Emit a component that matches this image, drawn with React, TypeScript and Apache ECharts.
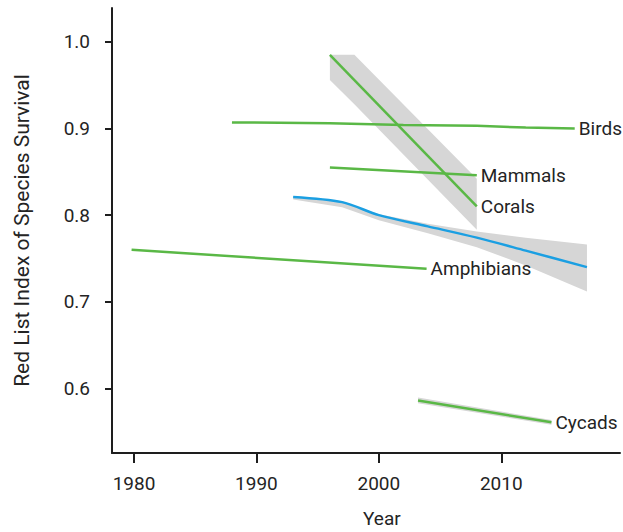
import React, { useEffect, useRef } from "react";
import * as echarts from "echarts";

const GREEN = "#5ab846";
const BLUE = "#1b9fe2";
const BAND = "#d6d6d6";

const xTicks = [1980, 1990, 2000, 2010];
const yTicks = [0.6, 0.7, 0.8, 0.9, 1.0];

const birdsYears = [1988, 1996, 2002, 2008, 2012, 2016];
const birdsValues = [0.907, 0.906, 0.904, 0.903, 0.901, 0.9];

const mammalsYears = [1996, 2008];
const mammalsValues = [0.855, 0.846];

const coralsYears = [1996, 2008];
const coralsValues = [0.985, 0.81];
const coralsBandYears = [1996, 1998, 2008];
const coralsBandUpper = [0.985, 0.985, 0.842];
const coralsBandLower = [0.956, 0.928, 0.783];

const amphYears = [1979.8, 2003.9];
const amphValues = [0.76, 0.738];

const cycadsYears = [2003.2, 2014.1];
const cycadsValues = [0.586, 0.561];
const cycadsUpper = [0.5895, 0.5635];
const cycadsLower = [0.583, 0.558];

const allYears = [1993, 1997, 2000, 2004, 2008, 2012, 2017];
const allValues = [0.821, 0.815, 0.8, 0.787, 0.774, 0.759, 0.74];
const allUpper = [0.822, 0.816, 0.801, 0.79, 0.781, 0.774, 0.766];
const allLower = [0.818, 0.809, 0.794, 0.779, 0.763, 0.742, 0.712];

const FONT = "Roboto";
const TEXT = "#242424";

function pairs(xs: number[], ys: number[]) {
  return xs.map((x, i) => [x, ys[i]]);
}

function bandSeries(xs: number[], upper: number[], lower: number[]) {
  return {
    type: "custom",
    silent: true,
    z: 1,
    data: [[xs[0], lower[0]]],
    renderItem: (_params: any, api: any) => {
      const top = xs.map((x, i) => api.coord([x, upper[i]]));
      const bottom = xs
        .map((x, i) => api.coord([x, lower[i]]))
        .reverse();
      return {
        type: "polygon",
        shape: { points: top.concat(bottom), smooth: 0 },
        style: { fill: BAND, stroke: null },
      };
    },
  };
}

function lineSeries(
  name: string,
  xs: number[],
  ys: number[],
  color: string,
  label = true,
  smooth: number | boolean = false
) {
  return {
    type: "line",
    name,
    z: 3,
    data: pairs(xs, ys),
    symbol: "none",
    smooth,
    lineStyle: { color, width: 2.5 },
    endLabel: label
      ? {
          show: true,
          formatter: "{a}",
          distance: 4,
          fontFamily: FONT,
          fontSize: 19,
          color: TEXT,
        }
      : { show: false },
  };
}

export default function App() {
  const ref = useRef<HTMLDivElement>(null);
  useEffect(() => {
    if (!ref.current) return;
    const chart = echarts.init(ref.current, undefined, { renderer: "svg" });
    const axisLine = { show: true, lineStyle: { color: "#1e1e1e", width: 2 } };
    chart.setOption({
      animation: false,
      grid: { left: 112, right: 3, top: 8, bottom: 79 },
      xAxis: {
        type: "value",
        min: 1978.2,
        max: 2019.7,
        splitLine: { show: false },
        axisLine,
        axisTick: {
          show: true,
          customValues: xTicks,
          length: 10,
          lineStyle: { color: "#1e1e1e", width: 2 },
        },
        axisLabel: {
          customValues: xTicks,
          margin: 21,
          fontFamily: FONT,
          fontSize: 19,
          color: TEXT,
          formatter: (v: number) => String(Math.round(v)),
        },
      },
      yAxis: {
        type: "value",
        min: 0.5255,
        max: 1.039,
        splitLine: { show: false },
        axisLine,
        axisTick: {
          show: true,
          customValues: yTicks,
          length: 7,
          lineStyle: { color: "#1e1e1e", width: 2 },
        },
        axisLabel: {
          customValues: yTicks,
          margin: 22,
          fontFamily: FONT,
          fontSize: 19,
          color: TEXT,
          formatter: (v: number) => v.toFixed(1),
        },
        name: "Red List Index of Species Survival",
        nameLocation: "middle",
        nameGap: 80,
        nameTextStyle: { fontFamily: FONT, fontSize: 21, color: TEXT },
      },
      graphic: [
        {
          type: "text",
          left: 363,
          top: 509,
          style: { text: "Year", fontFamily: FONT, fontSize: 19, fill: TEXT },
        },
      ],
      series: [
        bandSeries(coralsBandYears, coralsBandUpper, coralsBandLower),
        bandSeries(allYears, allUpper, allLower),
        bandSeries(cycadsYears, cycadsUpper, cycadsLower),
        lineSeries("Birds", birdsYears, birdsValues, GREEN),
        lineSeries("Mammals", mammalsYears, mammalsValues, GREEN),
        lineSeries("Corals", coralsYears, coralsValues, GREEN),
        lineSeries("Amphibians", amphYears, amphValues, GREEN),
        lineSeries("Cycads", cycadsYears, cycadsValues, GREEN),
        lineSeries("All", allYears, allValues, BLUE, false, 0.3),
      ],
    });
    return () => chart.dispose();
  }, []);
  return (
    <div
      ref={ref}
      style={{ position: "fixed", left: 0, top: 0, width: 623, height: 532, background: "#fff" }}
    />
  );
}
